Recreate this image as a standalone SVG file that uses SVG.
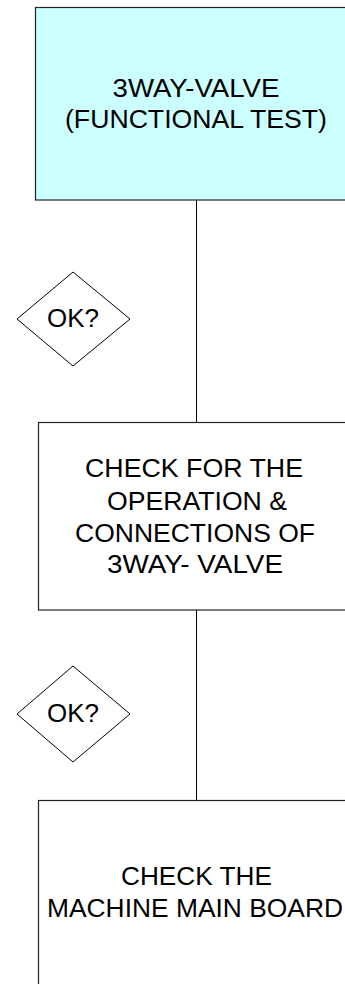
<svg xmlns="http://www.w3.org/2000/svg" width="345" height="984" viewBox="0 0 345 984">
<style>
.box{stroke:#222;stroke-width:1.2}
.dia{fill:#fff;stroke:#000;stroke-width:1}
.t{font-family:"Liberation Sans",Arial,sans-serif;font-size:25px;fill:#000;text-anchor:middle}
.c{stroke:#000;stroke-width:1;fill:none}
</style>
<rect width="345" height="984" fill="#fff"/>
<g id="connectors">
<line class="c" x1="196.5" y1="200" x2="196.5" y2="422"/>
<line class="c" x1="196.5" y1="610" x2="196.5" y2="800"/>
</g>
<g id="n1">
<rect class="box" x="35.5" y="7.5" width="330" height="192.5" fill="#ccffff"/>
<text class="t" x="196" y="97" textLength="167" lengthAdjust="spacingAndGlyphs">3WAY-VALVE</text>
<text class="t" x="196" y="128" textLength="262" lengthAdjust="spacingAndGlyphs">(FUNCTIONAL TEST)</text>
</g>
<g id="d1">
<polygon class="dia" points="73,272 130,319 73,366 17,319"/>
<text class="t" x="73" y="327" textLength="52" lengthAdjust="spacingAndGlyphs">OK?</text>
</g>
<g id="n2">
<rect class="box" x="38.5" y="422.5" width="330" height="187.5" fill="#fff"/>
<text class="t" x="194" y="477" textLength="218" lengthAdjust="spacingAndGlyphs">CHECK FOR THE</text>
<text class="t" x="197" y="510" textLength="180" lengthAdjust="spacingAndGlyphs">OPERATION &amp;</text>
<text class="t" x="195" y="542" textLength="240" lengthAdjust="spacingAndGlyphs">CONNECTIONS OF</text>
<text class="t" x="195" y="573" textLength="176" lengthAdjust="spacingAndGlyphs">3WAY- VALVE</text>
</g>
<g id="d2">
<polygon class="dia" points="73,666 130,714 73,762 17,714"/>
<text class="t" x="73" y="722" textLength="52" lengthAdjust="spacingAndGlyphs">OK?</text>
</g>
<g id="n3">
<rect class="box" x="38.5" y="800.5" width="330" height="200" fill="#fff"/>
<text class="t" x="196.5" y="885" textLength="151" lengthAdjust="spacingAndGlyphs">CHECK THE</text>
<text class="t" x="195" y="917" textLength="296" lengthAdjust="spacingAndGlyphs">MACHINE MAIN BOARD</text>
</g>
</svg>
